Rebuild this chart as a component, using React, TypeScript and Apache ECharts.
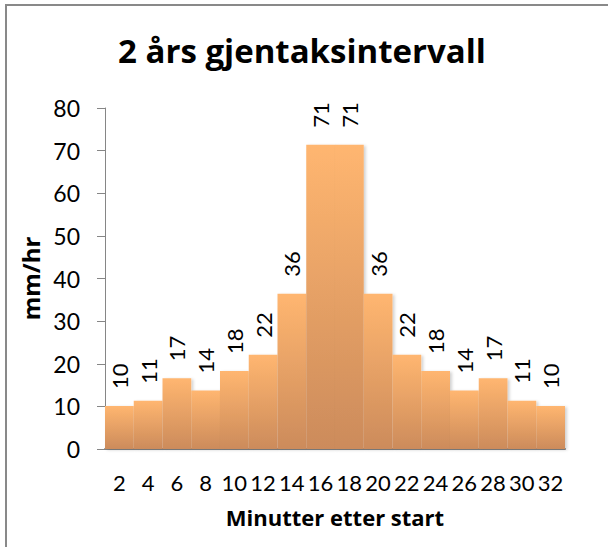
import React, { useEffect, useRef } from "react";
import * as echarts from "echarts";

const categories = ["2", "4", "6", "8", "10", "12", "14", "16", "18", "20", "22", "24", "26", "28", "30", "32"];
const values = [10.1, 11.3, 16.6, 13.7, 18.3, 22.1, 36.4, 71.4, 71.4, 36.4, 22.1, 18.3, 13.7, 16.6, 11.3, 10.1];
const yTicks = { min: 0, max: 80, interval: 10 };
const titleText = "2 års gjentaksintervall";
const yName = "mm/hr";
const xName = "Minutter etter start";

const FONT = "Lato, 'Open Sans', sans-serif";
const BOLD_FONT = "'Open Sans', Lato, sans-serif";

export default function App() {
  const ref = useRef<HTMLDivElement>(null);
  useEffect(() => {
    document.body.style.margin = "0";
    const chart = echarts.init(ref.current!, null, { renderer: "svg" });
    chart.setOption({
      animation: false,
      backgroundColor: "#ffffff",
      textStyle: { fontFamily: FONT },
      grid: { left: 105, right: 43, top: 108, bottom: 98, containLabel: false },
      graphic: [
        {
          type: "rect",
          shape: { x: 6, y: 5, width: 800, height: 800 },
          style: { fill: "none", stroke: "#898989", lineWidth: 2 },
          silent: true,
        },
        {
          type: "text",
          x: 302,
          y: 50,
          style: {
            text: titleText,
            align: "center",
            verticalAlign: "middle",
            fontFamily: BOLD_FONT,
            fontWeight: "bold",
            fontSize: 33,
            fill: "#000000",
          },
        },
      ],
      xAxis: {
        type: "category",
        data: categories,
        name: xName,
        nameLocation: "middle",
        nameGap: 57,
        nameTextStyle: { fontFamily: BOLD_FONT, fontWeight: "bold", fontSize: 22, color: "#000" },
        axisLine: { show: true, lineStyle: { color: "#868686", width: 2 } },
        axisTick: { show: false },
        axisLabel: { color: "#000", fontSize: 22, fontFamily: FONT, margin: 22, interval: 0 },
      },
      yAxis: {
        type: "value",
        min: yTicks.min,
        max: yTicks.max,
        interval: yTicks.interval,
        name: yName,
        nameLocation: "middle",
        nameGap: 54,
        nameRotate: 90,
        nameTextStyle: { fontFamily: BOLD_FONT, fontWeight: "bold", fontSize: 24, color: "#000" },
        axisLine: { show: true, lineStyle: { color: "#868686", width: 1 } },
        axisTick: { show: true, length: 8, lineStyle: { color: "#868686" } },
        axisLabel: { color: "#000", fontSize: 23, fontFamily: FONT, margin: 25 },
        splitLine: { show: false },
      },
      series: [
        {
          type: "bar",
          data: values,
          barCategoryGap: "0%",
          itemStyle: {
            color: new echarts.graphic.LinearGradient(0, 0, 0, 1, [
              { offset: 0, color: "#FFB670" },
              { offset: 1, color: "#CC8B5B" },
            ]),
            shadowColor: "rgba(0,0,0,0.18)",
            shadowBlur: 3,
            shadowOffsetX: 2,
            shadowOffsetY: 1,
          },
          label: {
            show: true,
            position: "top",
            rotate: 90,
            align: "left",
            verticalAlign: "middle",
            distance: 17,
            fontSize: 22,
            fontFamily: FONT,
            color: "#000",
            formatter: (p: any) => String(Math.round(p.value)),
          },
        },
      ],
    });
    return () => chart.dispose();
  }, []);
  return <div ref={ref} style={{ width: 608, height: 547 }} />;
}
